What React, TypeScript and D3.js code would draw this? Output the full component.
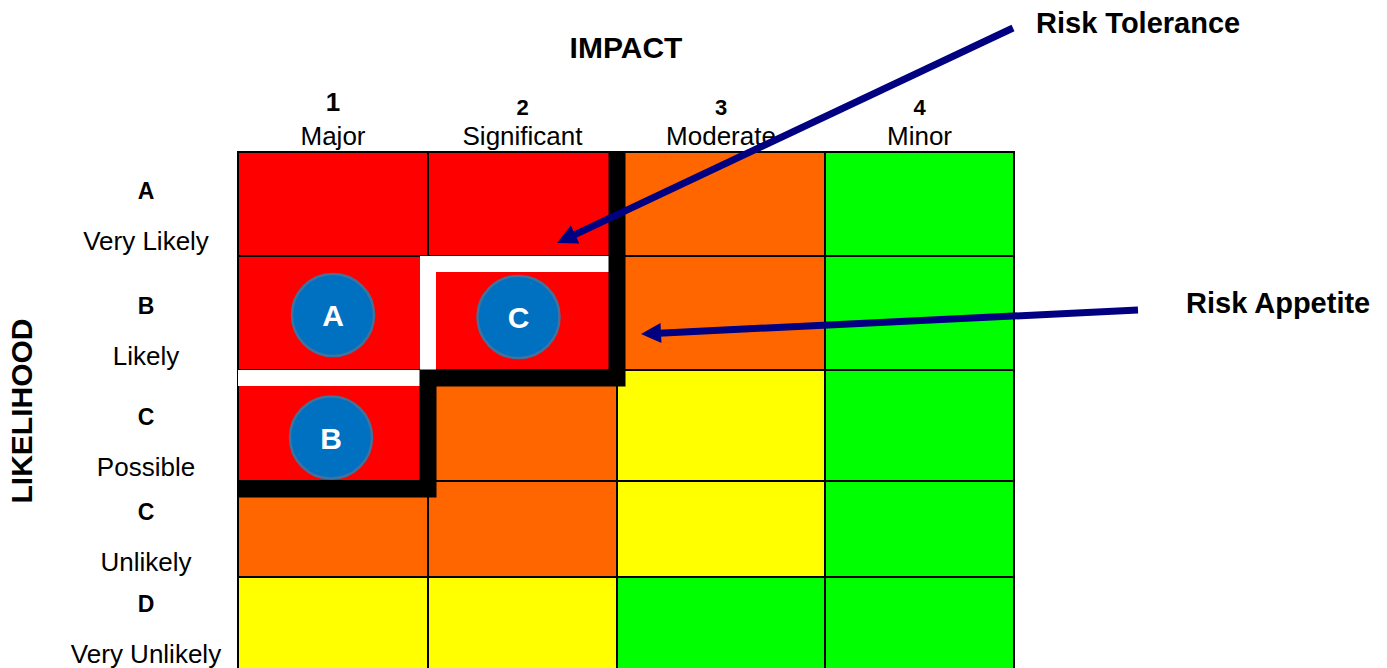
import React, { useEffect, useRef } from 'react';
import * as d3 from 'd3';

// ---- data ----
const impactNumbers = ['1', '2', '3', '4'];
const impactLabels = ['Major', 'Significant', 'Moderate', 'Minor'];
const likelihoodLetters = ['A', 'B', 'C', 'C', 'D'];
const likelihoodLabels = ['Very Likely', 'Likely', 'Possible', 'Unlikely', 'Very Unlikely'];

// risk level per cell: rows = likelihood (top to bottom), cols = impact
const riskGrid = [
  ['extreme', 'extreme', 'high', 'low'],
  ['extreme', 'extreme', 'high', 'low'],
  ['extreme', 'high', 'medium', 'low'],
  ['high', 'high', 'medium', 'low'],
  ['medium', 'medium', 'low', 'low'],
];

const risks = [
  { label: 'A', row: 1, col: 0 },
  { label: 'B', row: 2, col: 0 },
  { label: 'C', row: 1, col: 1 },
];

// staircase boundaries as [colEdge, rowEdge] grid corners
const toleranceLine: [number, number][] = [[2, 0], [2, 2], [1, 2], [1, 3], [0, 3]];
const appetiteLine: [number, number][] = [[2, 1], [1, 1], [1, 2], [0, 2]];

// ---- layout / style ----
const W = 1387;
const H = 668;
const colEdges = [238, 428, 617, 825, 1014];
const rowEdges = [152, 256, 370, 481, 577, 678];
const BAND = 16;
const FONT = 'Liberation Sans, Arial, Helvetica, sans-serif';

const levelColors: Record<string, string> = {
  extreme: '#FF0000',
  high: '#FF6600',
  medium: '#FFFF00',
  low: '#00FF00',
};

const labelBaselines = [199, 314, 425, 520, 612];
const bubbleNudge: Record<string, [number, number]> = { A: [0, 2], B: [-2, 12], C: [-4, 4] };

const annotations = [
  { text: 'Risk Tolerance', tx: 1036, ty: 33, from: [1013, 28], to: [557, 243] },
  { text: 'Risk Appetite', tx: 1186, ty: 313, from: [1138, 310], to: [641, 334] },
];

export default function App() {
  const svgRef = useRef<SVGSVGElement>(null);

  useEffect(() => {
    if (!svgRef.current) return;
    const svg = d3.select(svgRef.current);
    svg.selectAll('*').remove();

    const x = d3.scaleLinear().domain(d3.range(colEdges.length)).range(colEdges);
    const y = d3.scaleLinear().domain(d3.range(rowEdges.length)).range(rowEdges);

    svg.append('rect').attr('width', W).attr('height', H).attr('fill', '#fff');

    // Cells
    const cells = riskGrid.flatMap((row, r) => row.map((level, c) => ({ r, c, level })));
    svg.append('g')
      .selectAll('rect')
      .data(cells)
      .join('rect')
      .attr('x', d => x(d.c))
      .attr('y', d => y(d.r))
      .attr('width', d => x(d.c + 1) - x(d.c))
      .attr('height', d => y(d.r + 1) - y(d.r))
      .attr('fill', d => levelColors[d.level]);

    // Grid lines
    const grid = svg.append('g').attr('stroke', '#000').attr('stroke-width', 2);
    grid.selectAll('line.v')
      .data(d3.range(colEdges.length))
      .join('line')
      .attr('class', 'v')
      .attr('x1', d => x(d)).attr('x2', d => x(d))
      .attr('y1', y(0) - 1).attr('y2', y(rowEdges.length - 1));
    grid.selectAll('line.h')
      .data(d3.range(rowEdges.length))
      .join('line')
      .attr('class', 'h')
      .attr('x1', x(0) - 1).attr('x2', x(colEdges.length - 1) + 1)
      .attr('y1', d => y(d)).attr('y2', d => y(d));

    // Staircase boundaries
    const line = d3.line<[number, number]>().x(d => d[0]).y(d => d[1]);
    const toPts = (pts: [number, number][], trimStart: boolean) =>
      pts.map(([c, r], i) => {
        const px = trimStart && i === 0 ? x(c) - BAND / 2 : x(c);
        const py = r === 0 ? y(0) : y(r) + BAND / 2;
        return [px, py] as [number, number];
      });

    svg.append('path')
      .attr('d', line(toPts(appetiteLine, true)))
      .attr('fill', 'none')
      .attr('stroke', '#fff')
      .attr('stroke-width', BAND)
      .attr('stroke-linejoin', 'miter');

    svg.append('path')
      .attr('d', line(toPts(toleranceLine, false)))
      .attr('fill', 'none')
      .attr('stroke', '#000')
      .attr('stroke-width', BAND + 1)
      .attr('stroke-linejoin', 'miter');

    // Risk bubbles
    const bubbles = svg.append('g')
      .selectAll('g')
      .data(risks)
      .join('g')
      .attr('transform', d => {
        const [dx, dy] = bubbleNudge[d.label] || [0, 0];
        const cx = (x(d.col) + x(d.col + 1)) / 2 + dx;
        const cy = (y(d.row) + y(d.row + 1)) / 2 + dy;
        return `translate(${cx},${cy})`;
      });
    bubbles.append('circle')
      .attr('r', 41)
      .attr('fill', '#0070C0')
      .attr('stroke', '#41719C')
      .attr('stroke-width', 2.5);
    bubbles.append('text')
      .attr('text-anchor', 'middle')
      .attr('y', 11)
      .attr('font-family', FONT)
      .attr('font-weight', 'bold')
      .attr('font-size', 30)
      .attr('fill', '#fff')
      .text(d => d.label);

    // Column headers
    svg.append('text')
      .attr('x', (x(0) + x(4)) / 2)
      .attr('y', 58)
      .attr('text-anchor', 'middle')
      .attr('font-family', FONT)
      .attr('font-weight', 'bold')
      .attr('font-size', 30)
      .text('IMPACT');

    const heads = svg.append('g')
      .selectAll('g')
      .data(impactLabels.map((name, i) => ({ name, num: impactNumbers[i], i })))
      .join('g')
      .attr('transform', d => `translate(${(x(d.i) + x(d.i + 1)) / 2},0)`);
    heads.append('text')
      .attr('text-anchor', 'middle')
      .attr('y', d => (d.i === 0 ? 111 : 115))
      .attr('font-family', FONT)
      .attr('font-weight', 'bold')
      .attr('font-size', d => (d.i === 0 ? 26 : 22))
      .text(d => d.num);
    heads.append('text')
      .attr('text-anchor', 'middle')
      .attr('y', 145)
      .attr('font-family', FONT)
      .attr('font-size', 26)
      .text(d => d.name);

    // Row labels
    const rows = svg.append('g')
      .selectAll('g')
      .data(likelihoodLabels.map((name, i) => ({ name, letter: likelihoodLetters[i], i })))
      .join('g')
      .attr('transform', d => `translate(146,${labelBaselines[d.i]})`);
    rows.append('text')
      .attr('text-anchor', 'middle')
      .attr('font-family', FONT)
      .attr('font-weight', 'bold')
      .attr('font-size', 23)
      .text(d => d.letter);
    rows.append('text')
      .attr('text-anchor', 'middle')
      .attr('y', 51)
      .attr('font-family', FONT)
      .attr('font-size', 26)
      .text(d => d.name);

    svg.append('text')
      .attr('transform', `translate(32,411) rotate(-90)`)
      .attr('text-anchor', 'middle')
      .attr('font-family', FONT)
      .attr('font-weight', 'bold')
      .attr('font-size', 30)
      .text('LIKELIHOOD');

    // Annotation arrows
    annotations.forEach(a => {
      const [x1, y1] = a.from;
      const [x2, y2] = a.to;
      const len = Math.hypot(x2 - x1, y2 - y1);
      const ux = (x2 - x1) / len;
      const uy = (y2 - y1) / len;
      const headLen = 20;
      const halfW = 10;
      const bx = x2 - ux * headLen;
      const by = y2 - uy * headLen;
      svg.append('line')
        .attr('x1', x1).attr('y1', y1)
        .attr('x2', x2 - ux * (headLen - 2)).attr('y2', y2 - uy * (headLen - 2))
        .attr('stroke', '#000080')
        .attr('stroke-width', 7);
      svg.append('polygon')
        .attr('points', [
          [x2, y2],
          [bx - uy * halfW, by + ux * halfW],
          [bx + uy * halfW, by - ux * halfW],
        ].map(p => p.join(',')).join(' '))
        .attr('fill', '#000080');
      svg.append('text')
        .attr('x', a.tx)
        .attr('y', a.ty)
        .attr('font-family', FONT)
        .attr('font-weight', 'bold')
        .attr('font-size', 29)
        .text(a.text);
    });
  }, []);

  return (
    <div style={{ position: 'absolute', left: 0, top: 0, width: W, height: H, overflow: 'hidden' }}>
      <svg ref={svgRef} width={W} height={H} style={{ display: 'block' }} />
    </div>
  );
}
